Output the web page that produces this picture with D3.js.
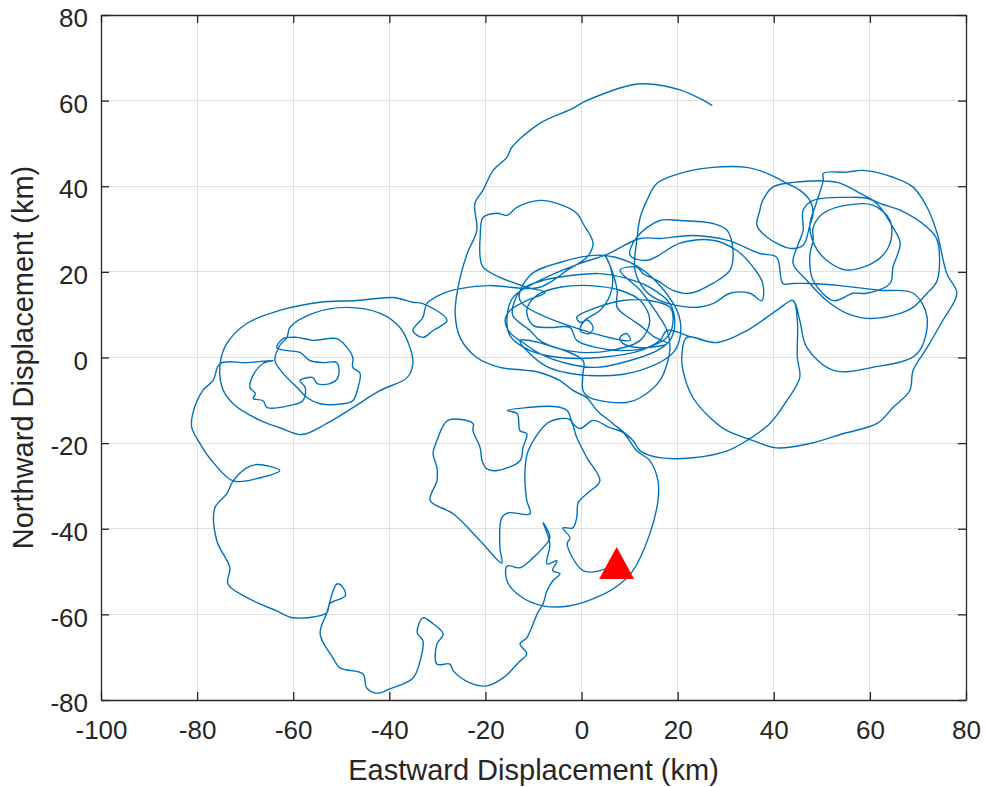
<!DOCTYPE html>
<html>
<head>
<meta charset="utf-8">
<script src="https://cdn.jsdelivr.net/npm/d3@7"></script>
<style>
  html, body { margin: 0; padding: 0; background: #fff; }
  svg { display: block; }
</style>
</head>
<body>
<svg id="chart" width="986" height="787"></svg>
<script>
// ---- data (km) ----
const xTicks = [-100, -80, -60, -40, -20, 0, 20, 40, 60, 80];
const yTicks = [-80, -60, -40, -20, 0, 20, 40, 60, 80];
const xLabel = "Eastward Displacement (km)";
const yLabel = "Northward Displacement (km)";
const startEast = [7.3];
const startNorth = [-48.0];

// trajectory, [east, north] in km
const track = [
 [7.3,-48.0],[3.8,-49.8],[0.3,-49.8],[-3.0,-43.5],[-2.4,-42.1],[-3.9,-39.8],[-1.8,-39.8],[-1.0,-37.4],[-0.7,-33.9],[1.1,-31.8],[3.8,-28.8],[1.1,-23.4],[-1.0,-18.7],[-2.4,-14.5],[-4.5,-14.3],[-7.2,-15.4],[-11.1,-21.8],[-11.8,-27.1],[-11.4,-33.4],[-10.7,-36.5],[-15.3,-36.3],[-16.6,-37.4],[-17.0,-44.4],[-16.6,-48.0],[-21.1,-42.8],[-26.7,-36.5],[-31.5,-33.4],[-30.1,-28.8],[-30.1,-25.7],[-30.9,-22.5],[-30.1,-19.4],[-27.8,-14.7],[-22.6,-15.4],[-22.6,-17.1],[-21.1,-21.1],[-20.7,-24.1],[-19.7,-26.0],[-17.6,-26.4],[-12.8,-24.1],[-12.2,-21.1],[-11.4,-17.8],[-12.8,-17.1],[-13.4,-13.1],[-15.5,-12.4],[-11.4,-11.7],[-5.1,-11.5],[-3.0,-12.4],[-1.8,-15.4],[-0.3,-16.6],[2.4,-14.7],[5.9,-16.4],[8.6,-17.5],[11.5,-21.8],[14.2,-24.1],[15.9,-28.8],[15.9,-33.4],[14.2,-41.2],[10.7,-49.8],[8.0,-52.9],[3.8,-55.7],[-2.4,-58.0],[-8.0,-58.0],[-12.8,-55.7],[-15.5,-52.2],[-15.5,-48.7],[-12.8,-49.1],[-10.1,-46.8],[-8.0,-44.4],[-6.6,-42.1],[-8.0,-38.6],[-6.6,-43.5],[-7.2,-48.2],[-5.1,-47.5],[-6.0,-49.8],[-4.5,-50.5],[-6.0,-52.2],[-7.2,-54.5],[-8.0,-57.5],[-9.1,-59.6],[-10.7,-63.9],[-11.4,-65.5],[-12.8,-66.9],[-11.4,-69.2],[-12.8,-70.9],[-16.4,-74.9],[-19.7,-76.7],[-23.2,-76.0],[-26.7,-73.2],[-27.4,-71.6],[-30.1,-71.6],[-30.1,-66.9],[-28.8,-64.6],[-30.9,-62.2],[-33.0,-60.8],[-34.2,-64.3],[-33.0,-66.2],[-33.6,-70.9],[-35.1,-74.9],[-39.9,-77.4],[-42.6,-78.4],[-44.7,-77.2],[-45.5,-73.9],[-50.3,-72.5],[-51.7,-70.2],[-54.4,-64.6],[-53.0,-59.6],[-50.9,-52.9],[-49.6,-53.8],[-49.2,-55.7],[-52.4,-57.5],[-53.0,-59.6],[-60.0,-60.8],[-63.4,-59.2],[-69.6,-56.1],[-73.6,-52.9],[-73.2,-49.1],[-75.9,-42.8],[-76.3,-35.1],[-73.8,-31.8],[-72.5,-28.8],[-69.6,-25.7],[-67.5,-25.0],[-62.8,-26.4],[-66.9,-28.1],[-72.5,-28.8],[-77.3,-23.6],[-79.4,-20.1],[-81.1,-16.4],[-80.9,-13.1],[-78.8,-7.7],[-76.7,-5.4],[-75.2,-1.4],
 [-69.6,-1.2],[-64.2,-0.7],[-66.3,-1.4],[-68.6,-4.7],[-69.0,-7.0],[-67.9,-8.4],[-68.3,-9.6],[-66.3,-10.1],[-65.4,-11.7],[-60.7,-11.2],[-58.0,-10.1],[-57.5,-7.0],[-58.6,-5.4],[-55.9,-4.7],[-55.0,-6.1],[-52.4,-6.1],[-50.7,-4.7],[-50.9,-1.2],[-53.8,-1.2],[-56.5,-0.7],[-58.6,1.2],[-61.3,1.6],[-63.4,2.3],[-62.1,4.4],[-59.2,4.7],[-55.9,4.0],[-50.9,4.4],[-48.8,2.3],[-47.6,0],[-47.6,-2.3],[-46.1,-3.7],[-46.5,-7.0],[-47.6,-10.1],[-49.6,-10.8],[-54.4,-10.8],[-57.1,-9.4],[-59.2,-7.0],[-62.1,-3.7],[-63.8,-0.7],[-62.8,2.8],[-61.3,4.7],[-60.7,7.0],[-55.9,10.3],[-48.8,11.7],[-41.9,10.3],[-37.8,7.0],[-35.7,2.3],[-35.1,-1.4],[-36.3,-4.7],[-41.9,-7.7],[-47.6,-11.7],[-53.0,-15.4],[-58.2,-18.0],[-62.8,-16.4],[-66.9,-14.7],[-72.5,-10.8],[-74.8,-7.0],[-75.2,-1.4],[-73.8,3.3],[-69.6,8.0],[-62.8,11.0],[-54.4,12.9],[-46.7,13.3],[-39.2,14.0],[-35.1,12.9],[-33.0,12.6],[-28.0,8.7],[-30.9,6.3],[-33.0,4.7],[-35.1,6.3],[-33.0,9.4],[-32.2,12.6],[-28.8,15.0],[-25.3,16.1],[-19.1,16.8],[-11.4,16.1],[-8.7,16.4],[-5.9,18.0],[-3.0,20.4],[1.1,23.4],[2.4,26.7],[0.3,31.3],[-1.0,33.7],[-5.1,36.0],[-8.7,36.7],[-13.4,35.1],[-15.5,33.2],[-17.6,33.7],[-20.5,32.7],[-21.1,28.1],[-21.1,23.4],[-20.5,21.1],[-17.0,18.7],[-11.4,16.4],[-7.6,15.2],
 [-11.4,13.3],[-14.9,11.0],[-15.9,8.7],[-14.9,5.8],[-12.2,3.5],[-8.7,0.9],[-3.0,-1.4],[3.2,-2.3],[10.1,-0.7],[15.7,1.6],[18.4,4.0],[19.4,8.0],[18.4,12.6],[14.2,16.4],[8.6,18.7],[3.8,19.6],[-1.8,19.2],[-8.0,18.0],[-12.2,16.1],[-13.9,13.3],[-14.3,9.8],
 [-10.7,6.3],[-8.7,4.0],[-5.5,2.3],[-0.3,1.2],[5.9,1.6],[12.2,4.0],[14.2,8.7],[12.2,13.3],[8.0,15.7],[1.7,16.8],[-4.5,16.4],[-9.3,14.5],[-11.4,11.0],[-10.1,7.5],[-6.6,7.0],
 [-2.4,7.0],[-1.0,4.0],[3.2,2.3],[8.6,1.6],[13.6,2.3],[17.8,4.7],[19.0,8.0],[18.4,11.7],[14.2,13.3],[8.6,13.3],[3.2,11.7],[-1.0,9.4],[-0.3,8.2],[1.3,8.7],[2.4,7.0],[1.7,5.6],[-0.3,6.3],[0.7,8.7],[3.8,11.0],[5.9,14.5],[6.5,18.0],[5.9,21.5],[4.9,23.9],[6.3,20.4],[7.4,15.7],[7.4,11.7],[10.1,9.1],[12.2,7.5],[15.3,4.7],[17.8,3.3],[12.2,2.3],[8.6,3.3],[8.0,4.7],[9.4,5.6],[10.1,4.0],
 [-12.8,13.3],[-10.7,19.2],[-4.5,22.2],[3.8,23.9],[10.1,22.2],[16.3,16.8],[20.5,8.7],[19.4,1.6],[12.2,-3.0],[1.7,-4.2],[-7.6,-1.9],[-12.8,4.0],
 [0.3,-0.7],[0.3,-3.7],[0.3,-7.7],[1.7,-9.4],[9.4,-10.5],[12.2,-9.4],[16.3,-5.4],[17.8,-1.4],[18.4,2.3],[17.8,6.3],
 [15.3,11.0],[12.2,15.7],[8.0,20.4],[11.5,21.1],[12.8,19.6],[15.7,18.0],[19.0,15.7],[22.6,15.0],[27.3,17.3],[30.9,20.4],[31.5,25.0],[30.3,29.7],[27.3,31.3],[20.5,32.0],[16.3,32.0],[11.5,28.1],[10.1,23.9],[13.7,22.7],[20.5,26.7],[27.3,27.4],[32.3,25.0],[35.7,21.1],[37.7,17.3],[37.5,13.3],[35.0,15.0],[30.9,15.0],[27.3,12.6],[23.2,11.7],[16.3,13.3],[13.2,15.7],[11.1,20.4],[11.5,27.4],[12.2,32.7],[13.6,36.7],[15.7,40.7],[20.5,43.0],[27.3,44.4],[34.4,44.4],[38.6,43.0],[42.7,40.7],[45.4,39.1],
 [47.5,36.7],[48.2,33.7],[47.5,30.9],[46.1,26.2],[43.4,25.5],[38.6,28.1],[36.5,30.9],[37.1,34.4],[37.7,36.7],[39.8,39.8],[44.0,40.9],[53.2,40.9],[57.9,38.4],[62.1,36.0],[66.3,34.4],[71.9,30.4],[74.0,27.4],[74.0,18.0],[71.9,15.0],[69.0,11.7],[66.3,10.3],[60.0,9.1],[55.2,10.3],[51.0,13.3],[46.9,18.0],[44.0,22.0],[45.0,26.2],[46.1,29.7],[46.1,34.4],[48.2,36.7],[55.2,37.4],[60.6,36.7],[64.8,30.4],[66.3,26.7],[64.8,21.1],[64.2,17.3],[59.4,15.0],[56.5,15.0],[52.4,13.3],[48.2,18.0],[47.5,23.9],[48.2,27.4],[48.2,30.4],[50.3,33.7],[55.2,35.6],[60.6,35.6],[64.2,32.0],[64.2,26.7],[61.5,22.7],[55.2,20.4],[51.0,22.7],[48.5,26.2],[47.5,30.9],[48.7,35.6],[50.3,41.4],[50.3,43.0],[55.2,43.3],[58.6,43.7],[64.8,42.1],[69.0,39.8],[71.9,35.1],[74.0,29.0],[76.0,19.6],[78.1,15.0],[75.2,8.7],[71.9,2.3],[69.0,-3.0],[68.3,-7.7],[64.8,-11.7],[61.5,-15.4],[54.4,-17.8],[47.5,-20.1],[40.6,-21.1],[35.7,-19.4],[30.3,-17.1],[26.7,-14.0],[23.2,-9.4],[21.1,-3.0],[20.9,0.9],[21.9,4.7],[28.2,3.5],[34.4,6.3],[40.6,11.0],[44.0,13.3],[45.4,8.7],[46.9,2.3],[52.4,-3.0],[60.6,-2.3],[69.8,0.9],[71.9,9.4],[69.0,15.0],[62.1,15.7],[53.8,16.8],[47.5,17.3],[44.0,17.3],[41.9,17.3],[40.6,23.4],[37.1,24.3],[30.3,27.4],[23.2,28.5],[16.3,27.8],[12.2,27.8],[4.9,23.9],[-0.3,22.0],[-8.7,18.0],[-14.3,14.0],[-15.5,9.4],[-14.9,5.1],[-10.7,1.6],[-4.5,0],[3.8,0],[12.2,1.6],[16.3,4.0],[17.8,6.3],[23.2,4.7],[28.2,3.5],[34.4,6.3],[40.6,11.0],[44.0,13.3],[44.9,8.7],
 [44.9,0],[45.4,-4.7],[42.7,-10.1],[39.2,-15.4],[34.4,-19.4],[30.3,-21.8],[23.2,-23.4],[16.3,-23.4],[12.2,-21.8],[10.7,-19.4],[6.5,-15.4],[3.2,-12.4],[1.1,-9.4],[-1.8,-7.7],[-4.5,-5.4],[-8.7,-3.5],
 [-11.4,-3.0],[-17.0,-2.3],[-21.8,0],[-25.3,4.7],[-26.3,10.3],[-25.7,16.4],[-23.8,24.3],[-21.8,29.7],[-22.2,36.0],[-20.5,39.1],[-18.4,43.7],[-15.5,46.8],[-14.5,49.1],[-8.7,54.7],[-1.8,58.2],[0.3,59.6],[10.1,63.6],[14.2,63.9],[20.5,62.5],[25.3,60.1],[27.1,58.9]
];

// ---- layout ----
const plot = { left: 101, right: 966, top: 15, bottom: 700 };
const axisColor = "#262626";
const gridColor = "#e0e0e0";
const lineColor = "#0072BD";
const fontFam = "'Liberation Sans', Arial, Helvetica, sans-serif";

const svg = d3.select("#chart");
svg.append("rect").attr("width", 986).attr("height", 787).attr("fill", "#fff");

const x = d3.scaleLinear().domain([-100, 80]).range([plot.left, plot.right]);
const y = d3.scaleLinear().domain([-80, 80]).range([plot.bottom, plot.top]);

// grid
const grid = svg.append("g");
grid.selectAll("line.gx").data(xTicks.slice(1, -1)).enter().append("line")
  .attr("x1", d => x(d)).attr("x2", d => x(d))
  .attr("y1", plot.top).attr("y2", plot.bottom)
  .attr("stroke", gridColor).attr("stroke-width", 1).attr("shape-rendering", "crispEdges");
grid.selectAll("line.gy").data(yTicks.slice(1, -1)).enter().append("line")
  .attr("y1", d => y(d)).attr("y2", d => y(d))
  .attr("x1", plot.left).attr("x2", plot.right)
  .attr("stroke", gridColor).attr("stroke-width", 1).attr("shape-rendering", "crispEdges");

// trajectory
const line = d3.line().x(d => x(d[0])).y(d => y(d[1])).curve(d3.curveCatmullRom.alpha(0.5));
svg.append("path").datum(track)
  .attr("d", line)
  .attr("fill", "none")
  .attr("stroke", lineColor)
  .attr("stroke-width", 1.4)
  .attr("stroke-linejoin", "round")
  .attr("stroke-linecap", "round");

// start marker (red triangle)
const tri = d3.symbol().type({
  draw(ctx) { ctx.moveTo(0, -16); ctx.lineTo(17.5, 16); ctx.lineTo(-17.5, 16); ctx.closePath(); }
})();
svg.selectAll("path.start").data(startEast.map((e, i) => [e, startNorth[i]])).enter()
  .append("path").attr("class", "start")
  .attr("d", tri)
  .attr("transform", d => `translate(${x(d[0])},${y(d[1])})`)
  .attr("fill", "#ff0000");

// axes
const fmt = d => String(d);
function styleAxis(g) {
  g.selectAll("path.domain").attr("stroke", axisColor).attr("stroke-width", 1.3);
  g.selectAll(".tick line").attr("stroke", axisColor).attr("stroke-width", 1.3);
  g.selectAll(".tick text").attr("fill", axisColor)
    .attr("font-family", fontFam).attr("font-size", 26);
}
const gb = svg.append("g").attr("transform", `translate(0,${plot.bottom})`)
  .call(d3.axisBottom(x).tickValues(xTicks).tickSize(-8).tickSizeOuter(0).tickPadding(21).tickFormat(fmt));
styleAxis(gb);

const gt = svg.append("g").attr("transform", `translate(0,${plot.top})`)
  .call(d3.axisTop(x).tickValues(xTicks).tickSize(-8).tickSizeOuter(0).tickFormat(""));
styleAxis(gt);

const gl = svg.append("g").attr("transform", `translate(${plot.left},0)`)
  .call(d3.axisLeft(y).tickValues(yTicks).tickSize(-8).tickSizeOuter(0).tickPadding(13).tickFormat(fmt));
styleAxis(gl);
gl.selectAll(".tick text").attr("dy", "0.45em");

const gr = svg.append("g").attr("transform", `translate(${plot.right},0)`)
  .call(d3.axisRight(y).tickValues(yTicks).tickSize(-8).tickSizeOuter(0).tickFormat(""));
styleAxis(gr);

// axis labels
svg.append("text")
  .attr("x", (plot.left + plot.right) / 2).attr("y", 780)
  .attr("text-anchor", "middle")
  .attr("font-family", fontFam).attr("font-size", 29).attr("fill", axisColor)
  .text(xLabel);
svg.append("text")
  .attr("transform", `translate(33,${(plot.top + plot.bottom) / 2}) rotate(-90)`)
  .attr("text-anchor", "middle")
  .attr("font-family", fontFam).attr("font-size", 29).attr("fill", axisColor)
  .text(yLabel);
</script>
</body>
</html>
